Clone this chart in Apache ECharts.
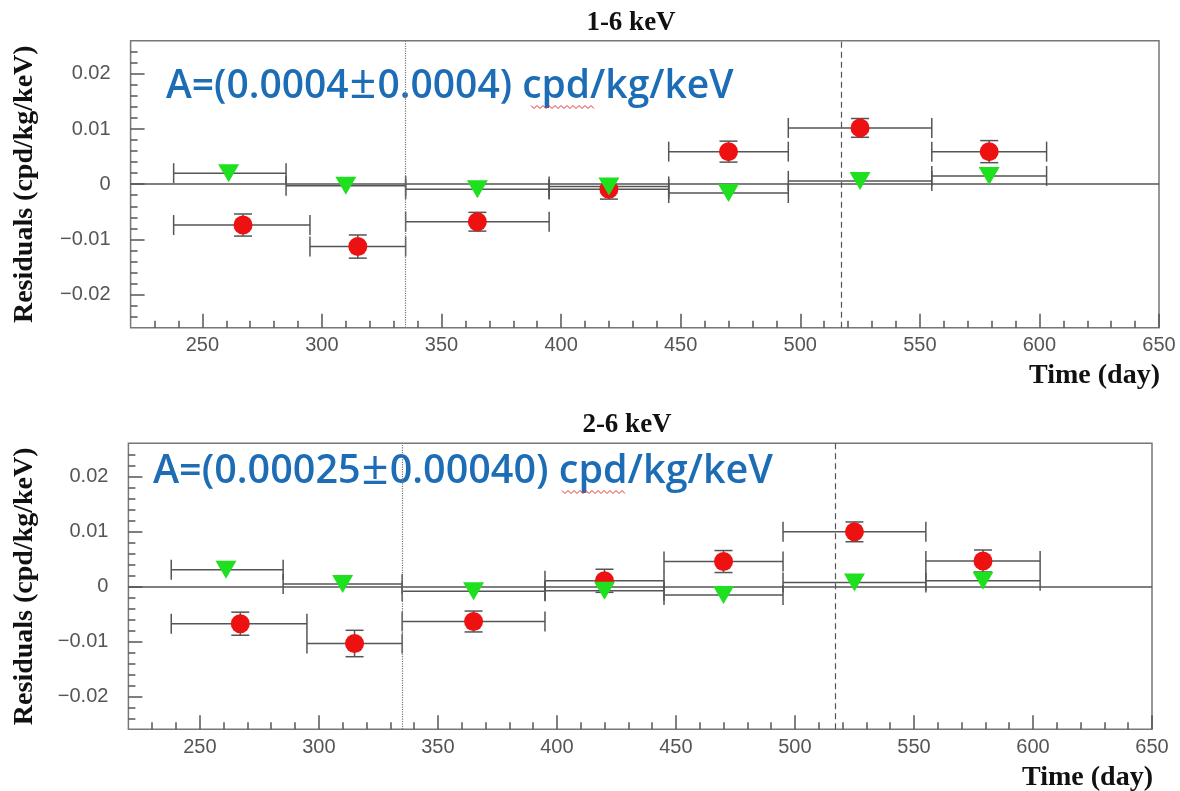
<!DOCTYPE html>
<html>
<head>
<meta charset="utf-8">
<title>Residuals</title>
<script src="https://cdn.jsdelivr.net/npm/echarts@6/dist/echarts.min.js"></script>
<style>
  html, body { margin: 0; padding: 0; background: #fff; }
  #chart { width: 1180px; height: 791px; }
</style>
</head>
<body>
<div id="chart"></div>
<script>
// bins (days) shared by both energy windows
var redDay = [267, 315, 365, 420, 470, 525, 579]
var redLo = [238, 295, 335, 395, 445, 495, 555]
var redHi = [295, 335, 395, 445, 495, 555, 603]
var greenDay = [261, 310, 365, 420, 470, 525, 579]
var greenLo = [238, 285, 335, 395, 445, 495, 555]
var greenHi = [285, 335, 395, 445, 495, 555, 603]

// 1-6 keV residuals
var red16 = [-0.0074, -0.0113, -0.0068, -0.0009, 0.0059, 0.0102, 0.0059]
var red16Err = [0.0020, 0.0021, 0.0017, 0.0018, 0.0019, 0.0017, 0.0020]
var green16 = [0.0020, -0.0003, -0.0009, -0.0004, -0.0016, 0.0006, 0.0015]

// 2-6 keV residuals
var red26 = [-0.0068, -0.0104, -0.0064, 0.0010, 0.0045, 0.0099, 0.0046]
var red26Err = [0.0021, 0.0024, 0.0019, 0.0021, 0.0020, 0.0018, 0.0020]
var green26 = [0.0030, 0.0004, -0.0009, -0.0008, -0.0016, 0.0007, 0.0010]

var xTicks = [250, 300, 350, 400, 450, 500, 550, 600, 650]
var yTicks = [-0.02, -0.01, 0, 0.01, 0.02]
var xMinor = []
for (var d = 230; d <= 640; d += 10) xMinor.push(d)
var yMinor = []
for (var k = -12; k <= 12; k++) yMinor.push(Math.round(k * 2) / 1000)

var titles = ['1-6 keV', '2-6 keV']
var notes = [
  '{a|A=(0.0004}{pm|\u00b1}{a|0.0004) cpd/kg/keV}',
  '{a|A=(0.00025}{pm|\u00b1}{a|0.00040) cpd/kg/keV}'
]

var grids = [
  { left: 130.6, top: 40.7, width: 1028.4, height: 287 },
  { left: 128.4, top: 443.3, width: 1023.6, height: 286 }
]
// hand-placed text anchors
var titleX = [631, 627]
var noteAt = [[166, 87], [153, 472]]
var noteSize = [39, 39.5]
var squiggle = [[531, 594, 107], [562, 626, 492]]

var chart = echarts.init(document.getElementById('chart'), null, { renderer: 'canvas' })

function errBars(lo, hi, days, vals, errs) {
  return days.map(function (d, i) {
    return [d, vals[i], lo[i], hi[i], errs ? errs[i] : 0]
  })
}

function renderErr(params, api) {
  var x = api.value(0), y = api.value(1), e = api.value(4)
  var l = api.coord([api.value(2), y])
  var r = api.coord([api.value(3), y])
  var st = { stroke: '#555', lineWidth: 1.5 }
  var kids = [
    { type: 'line', shape: { x1: l[0], y1: l[1], x2: r[0], y2: r[1] }, style: st },
    { type: 'line', shape: { x1: l[0], y1: l[1] - 10, x2: l[0], y2: l[1] + 10 }, style: st },
    { type: 'line', shape: { x1: r[0], y1: r[1] - 10, x2: r[0], y2: r[1] + 10 }, style: st }
  ]
  if (e) {
    var t = api.coord([x, y + e]), b = api.coord([x, y - e])
    kids.push({ type: 'line', shape: { x1: t[0], y1: t[1], x2: b[0], y2: b[1] }, style: st })
    kids.push({ type: 'line', shape: { x1: t[0] - 9, y1: t[1], x2: t[0] + 9, y2: t[1] }, style: st })
    kids.push({ type: 'line', shape: { x1: b[0] - 9, y1: b[1], x2: b[0] + 9, y2: b[1] }, style: st })
  }
  return { type: 'group', children: kids }
}

function wavy(x0, x1, y) {
  var pts = [], up = true
  for (var x = x0; x <= x1; x += 3) { pts.push([x, up ? y - 1.5 : y + 1.5]); up = !up }
  return pts
}

var labelFont = { color: '#555', fontSize: 20, fontFamily: 'Liberation Sans' }
var tickLine = { color: '#555', width: 1.5 }
var xAxes = [], yAxes = [], series = [], graphics = []
var panels = [
  { red: red16, err: red16Err, green: green16 },
  { red: red26, err: red26Err, green: green26 }
]

panels.forEach(function (p, i) {
  var g = grids[i]
  // major ticks + labels, then minor ticks on a twin axis
  xAxes.push({
    type: 'value', gridIndex: i, min: 220, max: 650, position: 'bottom',
    axisLine: { show: false, onZero: false }, splitLine: { show: false },
    axisTick: { inside: true, length: 14, customValues: xTicks, lineStyle: tickLine },
    axisLabel: Object.assign({ customValues: xTicks, margin: 8 }, labelFont)
  })
  xAxes.push({
    type: 'value', gridIndex: i, min: 220, max: 650, position: 'bottom',
    axisLine: { show: false, onZero: false }, splitLine: { show: false },
    axisTick: { inside: true, length: 7, customValues: xMinor, lineStyle: tickLine },
    axisLabel: { show: false, customValues: xMinor }
  })
  yAxes.push({
    type: 'value', gridIndex: i, min: -0.026, max: 0.026, position: 'left',
    axisLine: { show: false, onZero: false }, splitLine: { show: false },
    axisTick: { inside: true, length: 14, customValues: yTicks, lineStyle: tickLine },
    axisLabel: Object.assign({
      customValues: yTicks, margin: 20,
      formatter: function (v) { return v === 0 ? '0' : (v < 0 ? '\u2212' + (-v).toFixed(2) : v.toFixed(2)) }
    }, labelFont)
  })
  yAxes.push({
    type: 'value', gridIndex: i, min: -0.026, max: 0.026, position: 'left',
    axisLine: { show: false, onZero: false }, splitLine: { show: false },
    axisTick: { inside: true, length: 7, customValues: yMinor, lineStyle: tickLine },
    axisLabel: { show: false, customValues: yMinor }
  })

  var xi = i * 2, yi = i * 2
  series.push({
    type: 'custom', xAxisIndex: xi, yAxisIndex: yi, renderItem: renderErr,
    data: errBars(redLo, redHi, redDay, p.red, p.err), z: 3, silent: true,
    markLine: {
      silent: true, symbol: 'none', label: { show: false },
      lineStyle: { color: '#555', width: 1.5, type: 'solid' },
      data: [
        { yAxis: 0 },
        { xAxis: 335, lineStyle: { color: '#777', width: 1.2, type: 'dotted' } },
        { xAxis: 517, lineStyle: { color: '#555', width: 1.2, type: [6, 4] } }
      ]
    }
  })
  series.push({
    type: 'custom', xAxisIndex: xi, yAxisIndex: yi, renderItem: renderErr,
    data: errBars(greenLo, greenHi, greenDay, p.green, null), z: 3, silent: true
  })
  series.push({
    type: 'scatter', xAxisIndex: xi, yAxisIndex: yi, symbol: 'circle', symbolSize: 19,
    itemStyle: { color: '#ee1111', opacity: 1 }, z: 4,
    data: redDay.map(function (d, j) { return [d, p.red[j]] })
  })
  series.push({
    type: 'scatter', xAxisIndex: xi, yAxisIndex: yi, symbol: 'triangle', symbolRotate: 180,
    symbolSize: [21, 18], itemStyle: { color: '#1fe01f', opacity: 1 }, z: 5,
    data: greenDay.map(function (d, j) { return [d, p.green[j]] })
  })

  graphics.push({
    type: 'text', x: titleX[i], y: g.top - 18,
    style: { text: titles[i], fill: '#111', font: 'bold 27px "Liberation Serif"', align: 'center', verticalAlign: 'middle' }
  })
  graphics.push({
    type: 'text', x: g.left + g.width + 1, y: g.top + g.height + 48,
    style: { text: 'Time (day)', fill: '#111', font: 'bold 28px "Liberation Serif"', align: 'right', verticalAlign: 'middle' }
  })
  graphics.push({
    type: 'text', x: 25, y: g.top + g.height / 2, rotation: Math.PI / 2,
    style: { text: 'Residuals (cpd/kg/keV)', fill: '#111', font: 'bold 28px "Liberation Serif"', align: 'center', verticalAlign: 'middle' }
  })
  graphics.push({
    type: 'text', x: noteAt[i][0], y: noteAt[i][1],
    style: {
      text: notes[i], align: 'left', verticalAlign: 'middle',
      rich: {
        a: { fill: '#1c6db6', font: '600 ' + noteSize[i] + 'px "Open Sans"', verticalAlign: 'middle' },
        pm: { fill: '#1c6db6', font: '400 ' + (noteSize[i] + 8) + 'px "Open Sans"', verticalAlign: 'middle', padding: [0, 1, 4, 1] }
      }
    }
  })
  graphics.push({
    type: 'polyline', shape: { points: wavy(squiggle[i][0], squiggle[i][1], squiggle[i][2]) },
    style: { stroke: '#e03030', lineWidth: 1, fill: null }
  })
})

chart.setOption({
  animation: false,
  grid: grids.map(function (g) {
    return Object.assign({ show: true, borderColor: '#777', borderWidth: 1.5, backgroundColor: 'transparent' }, g)
  }),
  xAxis: xAxes,
  yAxis: yAxes,
  series: series,
  graphic: graphics
})
</script>
</body>
</html>
